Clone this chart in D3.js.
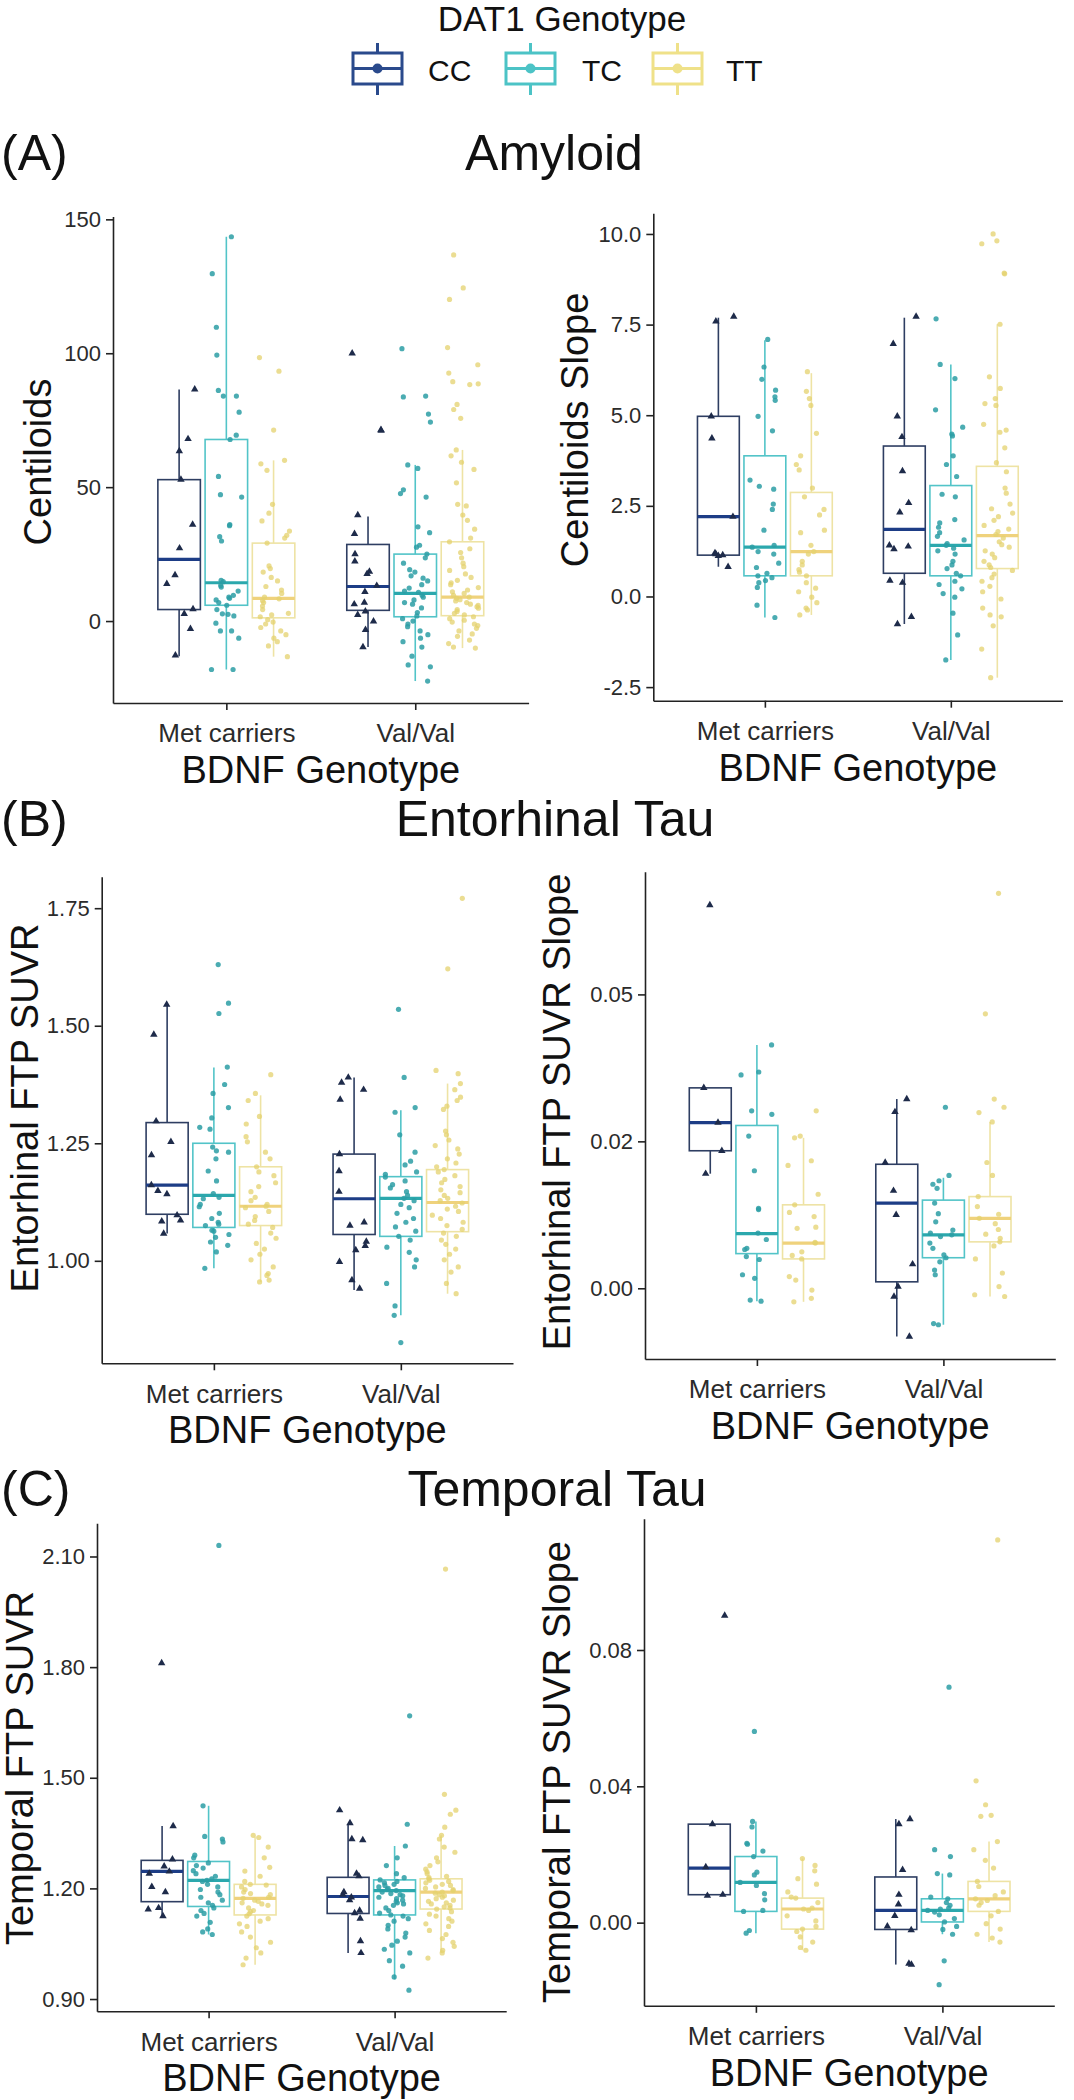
<!DOCTYPE html>
<html><head><meta charset="utf-8">
<script src="https://cdn.jsdelivr.net/npm/d3@7"></script>
<style>
body{margin:0;background:#fff}
svg{display:block;background:#fff}
text{font-family:"Liberation Sans",Arial,Helvetica,sans-serif}
</style>
</head><body>
<svg id="chart" width="1074" height="2100"></svg>
<script>
// ---------------- DATA ----------------
const genotypes = ["CC", "TC", "TT"];
const bdnfCats = ["Met carriers", "Val/Val"];
// box stats per group: [lower whisker, q1, median, q3, upper whisker]
// order: Met-CC, Met-TC, Met-TT, Val-CC, Val-TC, Val-TT

// Amyloid: Centiloids
const centTicks = [0, 50, 100, 150];
const centTickLabels = ["0", "50", "100", "150"];
const centBoxes = [
  [-13.1, 4.3, 23.0, 52.8, 86.5],
  [-18.1, 5.9, 14.3, 67.8, 143.5],
  [-13.3, 1.2, 8.5, 29.1, 60],
  [-9.7, 4.0, 12.9, 28.6, 39],
  [-22.4, 1.6, 10.3, 25, 58.3],
  [-10.1, 2.0, 8.9, 29.6, 63.9]
];
const centPoints = [
  [86.5, 68, 63.5, 52.8, 36, 27.2, 17.2, 13.9, 4.5, 2.7, -2.9, -12.8],
  [143.5, 129.7, 109.7, 99.3, 86.1, 84, 84, 78, 69.4, 67.8, 54, 47.2, 46.3, 36, 35.6, 31.5, 29.9, 15.2, 14.7, 13.3, 12.7, 11.2, 9.6, 8.9, 8.5, 7.9, 6.9, 5.9, 4.3, 2.7, 2.5, 1.9, -0.8, -3.7, -3.7, -6.4, -18.1, -18.1],
  [98.4, 93.3, 71.3, 60, 58.7, 56.3, 43.6, 40.3, 37.4, 33.6, 32, 31, 29.1, 20.6, 19.6, 18.3, 16.3, 15, 12.9, 11.6, 10.3, 8.9, 8.3, 7.6, 6.9, 5.6, 4.3, 2.9, 2.3, 1.6, 0.5, -0.4, -1.1, -2.4, -3.7, -5.1, -6.4, -7.7, -9.3, -13.3],
  [100, 71.4, 71.1, 39.6, 32.6, 25, 22.3, 18.5, 17.6, 13.2, 10.9, 6.9, 6.3, 3.6, 2.3, -0.1, -3.3, -9.7],
  [101.7, 84, 83.7, 77.3, 74.3, 58.3, 57, 49, 47.6, 46.3, 35.2, 33, 28.3, 27.6, 25, 23.6, 21.6, 19.2, 18.3, 16.9, 16, 15, 13.6, 12.3, 11.2, 10.7, 9.6, 8.9, 7.9, 6.9, 6.3, 4.9, 3.2, 1.9, 0.9, 0, -1.1, -2.1, -3.7, -5.1, -6.4, -7.7, -9.7, -13.1, -16.4, -17.1, -22.4],
  [136.7, 124.4, 120.1, 102.1, 95.7, 92.6, 89.4, 88.6, 88.3, 80.9, 79, 75.7, 63.9, 61.7, 59.3, 56.6, 51.6, 43.6, 43, 39.6, 37.6, 34.3, 31, 29.6, 27, 25.6, 23.6, 21.6, 20.3, 18.9, 17.6, 16.3, 15.2, 14.3, 13.6, 12.5, 11.6, 10.9, 10.3, 9.6, 8.9, 8.5, 8, 7.5, 6.9, 6.3, 5.9, 5.3, 4.8, 4.3, 3.6, 2.9, 2.3, 1.6, 0.9, 0.3, -0.4, -1.1, -1.7, -2.7, -3.7, -4.8, -5.7, -7.1, -8.4, -9.7, -10.1]
];

// Amyloid: Centiloids Slope
const centSlopeTicks = [-2.5, 0, 2.5, 5, 7.5, 10];
const centSlopeTickLabels = ["-2.5", "0.0", "2.5", "5.0", "7.5", "10.0"];
const centSlopeBoxes = [
  [0.82, 1.14, 2.2, 4.97, 7.69],
  [-0.58, 0.57, 1.36, 3.88, 7.07],
  [-0.51, 0.57, 1.24, 2.87, 6.16],
  [-0.76, 0.64, 1.85, 4.15, 7.69],
  [-1.75, 0.57, 1.41, 3.06, 6.4],
  [-2.24, 0.77, 1.68, 3.59, 7.51]
];
const centSlopePoints = [
  [7.72, 7.59, 4.97, 4.36, 2.2, 1.2, 1.17, 1.14, 1.12, 0.82],
  [7.09, 6.33, 5.99, 5.69, 5.51, 5.41, 4.97, 4.57, 3.21, 3.04, 2.96, 2.55, 2.4, 1.83, 1.41, 1.36, 1.24, 1.17, 0.92, 0.8, 0.64, 0.57, 0.52, 0.44, 0.38, 0.25, -0.24, -0.58],
  [6.2, 5.66, 5.46, 5.27, 4.5, 3.88, 3.64, 3.49, 2.99, 2.75, 2.4, 2.25, 1.83, 1.76, 1.41, 1.24, 1.17, 0.97, 0.87, 0.74, 0.67, 0.57, 0.38, 0.23, 0.13, -0.02, -0.17, -0.32, -0.37, -0.51],
  [7.72, 6.97, 4.97, 4.4, 3.46, 2.58, 2.32, 1.41, 1.38, 1.31, 0.44, 0.38, -0.56, -0.76],
  [7.66, 6.4, 6.01, 5.15, 4.67, 4.48, 4.43, 3.88, 3.64, 3.31, 2.82, 2.75, 2.12, 2.03, 1.91, 1.76, 1.66, 1.56, 1.46, 1.41, 1.33, 1.26, 1.17, 0.97, 0.87, 0.77, 0.64, 0.57, 0.42, 0.33, 0.21, 0.08, -0.02, -0.46, -1.06, -1.75],
  [10.0, 9.81, 9.73, 8.92, 8.9, 7.51, 6.06, 5.74, 5.46, 5.32, 5.27, 4.75, 4.59, 4.53, 4.1, 3.69, 3.44, 2.99, 2.85, 2.55, 2.42, 2.3, 2.2, 2.1, 1.96, 1.86, 1.79, 1.71, 1.61, 1.51, 1.43, 1.36, 1.26, 1.17, 1.07, 0.97, 0.87, 0.8, 0.72, 0.62, 0.52, 0.42, 0.28, 0.13, -0.07, -0.32, -0.51, -0.56, -0.81, -1.45, -2.24]
];

// Entorhinal Tau: SUVR
const entTicks = [1.0, 1.25, 1.5, 1.75];
const entTickLabels = ["1.00", "1.25", "1.50", "1.75"];
const entBoxes = [
  [1.058, 1.099, 1.161, 1.294, 1.545],
  [0.984, 1.071, 1.139, 1.250, 1.411],
  [0.955, 1.075, 1.116, 1.200, 1.352],
  [0.938, 1.056, 1.132, 1.227, 1.390],
  [0.884, 1.052, 1.133, 1.179, 1.320],
  [0.930, 1.062, 1.124, 1.194, 1.377]
];
const entPoints = [
  [1.545, 1.481, 1.297, 1.253, 1.225, 1.161, 1.149, 1.142, 1.097, 1.086, 1.084, 1.058],
  [1.630, 1.548, 1.526, 1.412, 1.375, 1.356, 1.326, 1.304, 1.284, 1.280, 1.242, 1.234, 1.231, 1.217, 1.191, 1.170, 1.143, 1.135, 1.132, 1.120, 1.115, 1.101, 1.090, 1.082, 1.078, 1.075, 1.065, 1.063, 1.056, 1.050, 1.040, 1.033, 1.019, 0.984],
  [1.396, 1.356, 1.341, 1.307, 1.291, 1.264, 1.253, 1.231, 1.217, 1.200, 1.189, 1.181, 1.166, 1.158, 1.147, 1.135, 1.128, 1.120, 1.116, 1.113, 1.105, 1.094, 1.086, 1.078, 1.071, 1.059, 1.048, 1.037, 1.025, 1.014, 1.002, 0.987, 0.973, 0.969, 0.959, 0.955],
  [1.390, 1.379, 1.364, 1.343, 1.227, 1.191, 1.147, 1.082, 1.075, 1.041, 1.032, 1.023, 0.998, 0.959, 0.941],
  [1.535, 1.390, 1.326, 1.316, 1.268, 1.231, 1.212, 1.204, 1.189, 1.184, 1.178, 1.170, 1.162, 1.155, 1.147, 1.139, 1.133, 1.128, 1.120, 1.113, 1.101, 1.090, 1.082, 1.072, 1.063, 1.052, 1.044, 1.029, 1.018, 1.002, 0.987, 0.952, 0.904, 0.884, 0.826],
  [1.771, 1.621, 1.405, 1.398, 1.377, 1.364, 1.348, 1.341, 1.329, 1.322, 1.276, 1.268, 1.257, 1.245, 1.238, 1.227, 1.217, 1.208, 1.200, 1.194, 1.189, 1.181, 1.173, 1.166, 1.158, 1.151, 1.145, 1.139, 1.133, 1.128, 1.123, 1.116, 1.110, 1.105, 1.097, 1.090, 1.082, 1.075, 1.067, 1.059, 1.052, 1.044, 1.035, 1.025, 1.014, 1.002, 0.987, 0.976, 0.952, 0.930]
];

// Entorhinal Tau: SUVR Slope
const entSlopeTicks = [0, 0.025, 0.05];
const entSlopeTickLabels = ["0.00", "0.02", "0.05"];
const entSlopeBoxes = [
  [0.0195, 0.0234, 0.0282, 0.0341, 0.0341],
  [-0.0022, 0.0059, 0.0093, 0.0277, 0.0414],
  [-0.0023, 0.0050, 0.0077, 0.0142, 0.0256],
  [-0.0082, 0.0011, 0.0145, 0.0211, 0.0322],
  [-0.0062, 0.0052, 0.0091, 0.0150, 0.0188],
  [-0.0014, 0.0079, 0.0119, 0.0156, 0.0283]
];
const entSlopePoints = [
  [0.0652, 0.0341, 0.0282, 0.0234, 0.0195],
  [0.0414, 0.0368, 0.0363, 0.0302, 0.0296, 0.0259, 0.0200, 0.0136, 0.0134, 0.0094, 0.0083, 0.0068, 0.0066, 0.0054, 0.0049, 0.0023, 0.0017, -0.0020, -0.0022],
  [0.0302, 0.0259, 0.0256, 0.0217, 0.0209, 0.0160, 0.0142, 0.0129, 0.0122, 0.0104, 0.0102, 0.0078, 0.0077, 0.0062, 0.0056, 0.0050, 0.0020, 0.0014, -0.0003, -0.0017, -0.0023],
  [0.0322, 0.0300, 0.0214, 0.0166, 0.0125, 0.0041, 0.0003, -0.0014, -0.0082],
  [0.0308, 0.0192, 0.0183, 0.0177, 0.0170, 0.0145, 0.0127, 0.0113, 0.0099, 0.0094, 0.0091, 0.0088, 0.0077, 0.0068, 0.0057, 0.0052, 0.0045, 0.0031, 0.0023, -0.0060, -0.0062],
  [0.0672, 0.0467, 0.0322, 0.0308, 0.0299, 0.0283, 0.0214, 0.0192, 0.0156, 0.0139, 0.0126, 0.0119, 0.0110, 0.0100, 0.0092, 0.0085, 0.0079, 0.0072, 0.0050, 0.0026, 0.0003, -0.0011, -0.0014]
];

// Temporal Tau: SUVR
const tempTicks = [0.9, 1.2, 1.5, 1.8, 2.1];
const tempTickLabels = ["0.90", "1.20", "1.50", "1.80", "2.10"];
const tempBoxes = [
  [1.125, 1.164, 1.246, 1.276, 1.369],
  [1.075, 1.151, 1.222, 1.273, 1.424],
  [0.993, 1.128, 1.173, 1.211, 1.341],
  [1.025, 1.132, 1.178, 1.230, 1.374],
  [0.953, 1.128, 1.194, 1.223, 1.315],
  [1.025, 1.144, 1.190, 1.226, 1.344]
];
const tempPoints = [
  [1.811, 1.369, 1.279, 1.260, 1.246, 1.240, 1.204, 1.190, 1.147, 1.143, 1.125],
  [2.130, 1.424, 1.341, 1.334, 1.326, 1.290, 1.283, 1.269, 1.262, 1.255, 1.248, 1.240, 1.233, 1.226, 1.222, 1.219, 1.211, 1.204, 1.197, 1.190, 1.183, 1.176, 1.168, 1.161, 1.154, 1.147, 1.140, 1.132, 1.125, 1.108, 1.090, 1.082, 1.075],
  [1.344, 1.338, 1.312, 1.283, 1.257, 1.247, 1.233, 1.219, 1.211, 1.209, 1.204, 1.197, 1.190, 1.186, 1.183, 1.176, 1.173, 1.168, 1.165, 1.161, 1.158, 1.154, 1.147, 1.140, 1.137, 1.131, 1.125, 1.118, 1.111, 1.104, 1.097, 1.082, 1.068, 1.054, 1.039, 1.025, 1.011, 0.993],
  [1.412, 1.377, 1.334, 1.331, 1.240, 1.233, 1.190, 1.183, 1.176, 1.168, 1.140, 1.133, 1.118, 1.057, 1.025],
  [1.668, 1.374, 1.315, 1.283, 1.262, 1.240, 1.229, 1.223, 1.219, 1.215, 1.211, 1.208, 1.204, 1.200, 1.197, 1.194, 1.190, 1.186, 1.183, 1.180, 1.176, 1.172, 1.168, 1.165, 1.161, 1.158, 1.154, 1.147, 1.140, 1.133, 1.128, 1.125, 1.118, 1.111, 1.100, 1.090, 1.079, 1.068, 1.057, 1.046, 1.035, 1.025, 1.004, 0.989, 0.960, 0.924],
  [2.066, 1.455, 1.412, 1.401, 1.366, 1.344, 1.334, 1.312, 1.298, 1.283, 1.272, 1.262, 1.252, 1.245, 1.240, 1.233, 1.229, 1.226, 1.222, 1.219, 1.215, 1.211, 1.208, 1.204, 1.200, 1.197, 1.194, 1.190, 1.187, 1.183, 1.180, 1.176, 1.172, 1.168, 1.165, 1.161, 1.158, 1.154, 1.150, 1.147, 1.144, 1.137, 1.130, 1.125, 1.118, 1.111, 1.104, 1.097, 1.086, 1.075, 1.064, 1.054, 1.043, 1.032, 1.025, 1.011]
];

// Temporal Tau: SUVR Slope
const tempSlopeTicks = [0, 0.04, 0.08];
const tempSlopeTickLabels = ["0.00", "0.04", "0.08"];
const tempSlopeBoxes = [
  [0.0079, 0.0082, 0.0160, 0.0289, 0.0289],
  [-0.0031, 0.0033, 0.0118, 0.0194, 0.0297],
  [-0.0081, -0.0019, 0.0040, 0.0072, 0.0188],
  [-0.0123, -0.0020, 0.0036, 0.0134, 0.0304],
  [-0.0034, 0.0002, 0.0036, 0.0070, 0.0144],
  [-0.0057, 0.0033, 0.0070, 0.0121, 0.0238]
];
const tempSlopePoints = [
  [0.0901, 0.0289, 0.0163, 0.0082, 0.0079],
  [0.0561, 0.0297, 0.0281, 0.0233, 0.0230, 0.0210, 0.0194, 0.0148, 0.0140, 0.0118, 0.0109, 0.0085, 0.0067, 0.0036, 0.0033, -0.0023, -0.0031],
  [0.0188, 0.0168, 0.0152, 0.0129, 0.0113, 0.0090, 0.0075, 0.0072, 0.0059, 0.0043, 0.0040, 0.0036, 0.0020, 0.0005, -0.0011, -0.0019, -0.0026, -0.0042, -0.0057, -0.0073, -0.0081],
  [0.0304, 0.0289, 0.0155, 0.0082, 0.0054, 0.0020, -0.0011, -0.0022, -0.0120, -0.0123],
  [0.0691, 0.0214, 0.0194, 0.0144, 0.0140, 0.0075, 0.0070, 0.0059, 0.0051, 0.0043, 0.0040, 0.0036, 0.0031, 0.0023, 0.0012, 0.0002, -0.0011, -0.0020, -0.0034, -0.0112, -0.0182],
  [0.1123, 0.0416, 0.0346, 0.0315, 0.0312, 0.0238, 0.0214, 0.0183, 0.0160, 0.0121, 0.0106, 0.0090, 0.0079, 0.0070, 0.0065, 0.0059, 0.0051, 0.0033, 0.0020, -0.0003, -0.0019, -0.0034, -0.0045, -0.0057]
];

// ---------------- STYLE / LAYOUT ----------------
const palette = {
  CC: {line: "#2e3e62", med: "#1d3d86", pt: "#1e2b4a", key: "#2a4a8c"},
  TC: {line: "#52c4c8", med: "#2ba8ad", pt: "#2b9ea4", key: "#4cc3c6"},
  TT: {line: "#eee3a4", med: "#efd27c", pt: "#e4d26e", key: "#efe189"}
};
const FONT_TICK = 22, FONT_CAT = 26, FONT_AXTITLE = 38, FONT_HEAD = 50;

const panels = [
  {title: "Centiloids", x0: 113, x1: 528.6, y0: 216.4, y1: 703, dom: [-30.6, 151.1],
   ticks: centTicks, labels: centTickLabels, boxes: centBoxes, pts: centPoints, tx: 51, ty: 462, seed: 11},
  {title: "Centiloids Slope", x0: 653.3, x1: 1062.4, y0: 213.3, y1: 700.7, dom: [-2.875, 10.57],
   ticks: centSlopeTicks, labels: centSlopeTickLabels, boxes: centSlopeBoxes, pts: centSlopePoints, tx: 588, ty: 430, seed: 23},
  {title: "Entorhinal FTP SUVR", x0: 101.7, x1: 513, y0: 876.7, y1: 1363.3, dom: [0.782, 1.817],
   ticks: entTicks, labels: entTickLabels, boxes: entBoxes, pts: entPoints, tx: 38, ty: 1108, seed: 37},
  {title: "Entorhinal FTP SUVR Slope", x0: 645, x1: 1055.3, y0: 871.8, y1: 1359, dom: [-0.01203, 0.07086],
   ticks: entSlopeTicks, labels: entSlopeTickLabels, boxes: entSlopeBoxes, pts: entSlopePoints, tx: 570, ty: 1112, seed: 41},
  {title: "Temporal FTP SUVR", x0: 97, x1: 506.2, y0: 1523.3, y1: 2011.2, dom: [0.867, 2.19],
   ticks: tempTicks, labels: tempTickLabels, boxes: tempBoxes, pts: tempPoints, tx: 33, ty: 1768, seed: 53},
  {title: "Temporal FTP SUVR Slope", x0: 644, x1: 1054.3, y0: 1518.8, y1: 2005.8, dom: [-0.0244, 0.1185],
   ticks: tempSlopeTicks, labels: tempSlopeTickLabels, boxes: tempSlopeBoxes, pts: tempSlopePoints, tx: 570, ty: 1772, seed: 67}
];

const headings = [
  {label: "(A)", title: "Amyloid", y: 170, cx: 554},
  {label: "(B)", title: "Entorhinal Tau", y: 836, cx: 555},
  {label: "(C)", title: "Temporal Tau", y: 1506, cx: 557}
];

// ---------------- DRAW ----------------
const svg = d3.select("#chart");
svg.append("rect").attr("width", 1074).attr("height", 2100).attr("fill", "#fff");

function drawPanel(p) {
  const g = svg.append("g");
  const x = d3.scaleLinear().domain([0.4, 2.6]).range([p.x0, p.x1]);
  const y = d3.scaleLinear().domain(p.dom).range([p.y1, p.y0]);
  const rng = d3.randomLcg(p.seed / 100);
  const jit = d3.randomUniform.source(rng)(-0.085, 0.085);
  const half = 0.1125;

  p.boxes.forEach((b, i) => {
    const cat = i < 3 ? 1 : 2;
    const k = i % 3;
    const col = palette[genotypes[k]];
    const cx = cat + (k - 1) * 0.25;
    const [lo, q1, med, q3, hi] = b;
    const bg = g.append("g");
    bg.append("line").attr("x1", x(cx)).attr("x2", x(cx)).attr("y1", y(q3)).attr("y2", y(hi))
      .attr("stroke", col.line).attr("stroke-width", 1.6);
    bg.append("line").attr("x1", x(cx)).attr("x2", x(cx)).attr("y1", y(q1)).attr("y2", y(lo))
      .attr("stroke", col.line).attr("stroke-width", 1.6);
    bg.append("rect").attr("x", x(cx - half)).attr("width", x(cx + half) - x(cx - half))
      .attr("y", y(q3)).attr("height", y(q1) - y(q3))
      .attr("fill", "none").attr("stroke", col.line).attr("stroke-width", 1.6);
    bg.append("line").attr("x1", x(cx - half)).attr("x2", x(cx + half)).attr("y1", y(med)).attr("y2", y(med))
      .attr("stroke", col.med).attr("stroke-width", 3.2);
  });

  p.pts.forEach((arr, i) => {
    const cat = i < 3 ? 1 : 2;
    const k = i % 3;
    const gt = genotypes[k];
    const col = palette[gt];
    const cx = cat + (k - 1) * 0.25;
    arr.forEach(v => {
      const px = x(cx + jit()), py = y(v);
      if (gt === "CC") {
        g.append("path").attr("d", d3.symbol(d3.symbolTriangle, 24)())
          .attr("transform", `translate(${px},${py})`).attr("fill", col.pt);
      } else {
        g.append("circle").attr("cx", px).attr("cy", py).attr("r", 2.6)
          .attr("fill", col.pt).attr("opacity", gt === "TC" ? 0.85 : 0.75);
      }
    });
  });

  // axes
  const yAx = g.append("g").attr("transform", `translate(${p.x0},0)`)
    .call(d3.axisLeft(y).tickValues(p.ticks).tickFormat((d, i) => p.labels[i]).tickSize(7).tickSizeOuter(0).tickPadding(5));
  const xAx = g.append("g").attr("transform", `translate(0,${p.y1})`)
    .call(d3.axisBottom(x).tickValues([1, 2]).tickFormat((d, i) => bdnfCats[i]).tickSize(7).tickSizeOuter(0).tickPadding(14));
  [yAx, xAx].forEach(a => {
    a.select(".domain").attr("stroke", "#222").attr("stroke-width", 1.6);
    a.selectAll(".tick line").attr("stroke", "#222").attr("stroke-width", 1.6);
    a.selectAll("text").attr("fill", "#2b2b2b").style("font-family", '"Liberation Sans",Arial,sans-serif');
  });
  yAx.selectAll("text").attr("font-size", FONT_TICK);
  xAx.selectAll("text").attr("font-size", FONT_CAT);

  g.append("text").attr("x", (p.x0 + p.x1) / 2).attr("y", p.y1 + 80).attr("text-anchor", "middle")
    .attr("font-size", FONT_AXTITLE).attr("fill", "#111").text("BDNF Genotype");
  g.append("text").attr("transform", `translate(${p.tx},${p.ty}) rotate(-90)`).attr("text-anchor", "middle")
    .attr("font-size", FONT_AXTITLE).attr("fill", "#111").text(p.title);
}

panels.forEach(drawPanel);

headings.forEach(h => {
  svg.append("text").attr("x", 1).attr("y", h.y).attr("font-size", FONT_HEAD).attr("fill", "#111").text(h.label);
  svg.append("text").attr("x", h.cx).attr("y", h.y).attr("text-anchor", "middle")
    .attr("font-size", FONT_HEAD).attr("fill", "#111").text(h.title);
});

// legend
const leg = svg.append("g");
leg.append("text").attr("x", 562).attr("y", 31).attr("text-anchor", "middle").attr("font-size", 35).attr("fill", "#111")
  .text("DAT1 Genotype");
const keyX = {CC: 353, TC: 506, TT: 653};
const labX = {CC: 428, TC: 582, TT: 726};
genotypes.forEach(gt => {
  const c = palette[gt].key;
  const x0 = keyX[gt], w = 49, y0 = 53, h = 31, mx = x0 + w / 2;
  leg.append("line").attr("x1", mx).attr("x2", mx).attr("y1", 43).attr("y2", y0).attr("stroke", c).attr("stroke-width", 3);
  leg.append("line").attr("x1", mx).attr("x2", mx).attr("y1", y0 + h).attr("y2", 95).attr("stroke", c).attr("stroke-width", 3);
  leg.append("rect").attr("x", x0).attr("y", y0).attr("width", w).attr("height", h).attr("fill", "#fff")
    .attr("stroke", c).attr("stroke-width", 3);
  leg.append("line").attr("x1", x0).attr("x2", x0 + w).attr("y1", y0 + h / 2).attr("y2", y0 + h / 2).attr("stroke", c).attr("stroke-width", 3);
  leg.append("circle").attr("cx", mx).attr("cy", y0 + h / 2).attr("r", 5).attr("fill", c);
  leg.append("text").attr("x", labX[gt]).attr("y", 81).attr("font-size", 30).attr("fill", "#111").text(gt);
});
</script>
</body></html>
